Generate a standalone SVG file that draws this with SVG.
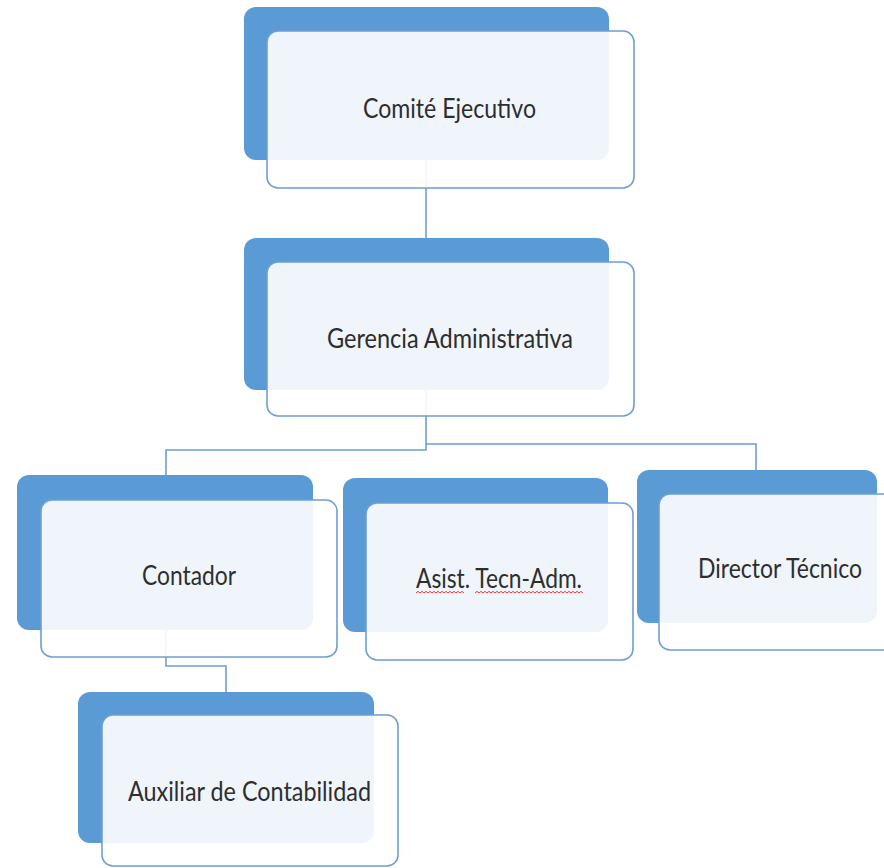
<svg xmlns="http://www.w3.org/2000/svg" width="884" height="868" viewBox="0 0 884 868">
<style>
.back{fill:#5b9bd5;}
.front{fill:#ffffff;fill-opacity:0.9;stroke:#6e9fd3;stroke-width:1.6;}
.conn{fill:none;stroke:#6e9fd3;stroke-width:1.6;}
.lbl{font-family:Lato,"Open Sans","Liberation Sans",sans-serif;font-size:26px;fill:#2e2e2e;}
.sq{fill:none;stroke:#e03a3a;stroke-width:1;}
</style>
<rect width="884" height="868" fill="#ffffff"/>
<g id="connectors">
<path class="conn" d="M426 160 V238"/>
<path class="conn" d="M426 390 V450 H166 V475"/>
<path class="conn" d="M426 444 H756 V470"/>
<path class="conn" d="M166 630 V666 H226 V692"/>
</g>
<g id="node-comite">
<rect class="back" x="244" y="7" width="365" height="153" rx="12"/>
<rect class="front" x="267" y="31" width="367" height="157" rx="11"/>
<text class="lbl" x="363" y="118" textLength="173" lengthAdjust="spacingAndGlyphs">Comité Ejecutivo</text>
</g>
<g id="node-gerencia">
<rect class="back" x="244" y="238" width="365" height="152" rx="12"/>
<rect class="front" x="267" y="262" width="367" height="154" rx="11"/>
<text class="lbl" x="327" y="348" textLength="246" lengthAdjust="spacingAndGlyphs">Gerencia Administrativa</text>
</g>
<g id="node-contador">
<rect class="back" x="17" y="475" width="296" height="155" rx="12"/>
<rect class="front" x="41" y="500" width="296" height="157" rx="11"/>
<text class="lbl" x="142" y="585" textLength="94" lengthAdjust="spacingAndGlyphs">Contador</text>
</g>
<g id="node-asist">
<rect class="back" x="343" y="478" width="265" height="154" rx="12"/>
<rect class="front" x="366" y="503" width="267" height="157" rx="11"/>
<text class="lbl" x="416" y="588" textLength="166" lengthAdjust="spacingAndGlyphs">Asist. Tecn-Adm.</text>
<path class="sq" d="M416 593 l2 -1.6 l2 1.6 l2 -1.6 l2 1.6 l2 -1.6 l2 1.6 l2 -1.6 l2 1.6 l2 -1.6 l2 1.6 l2 -1.6 l2 1.6 l2 -1.6 l2 1.6 l2 -1.6 l2 1.6 l2 -1.6 l2 1.6 l2 -1.6 l2 1.6 l2 -1.6 l2 1.6 l2 -1.6 l2 1.6"/>
<path class="sq" d="M475 593 l2 -1.6 l2 1.6 l2 -1.6 l2 1.6 l2 -1.6 l2 1.6 l2 -1.6 l2 1.6 l2 -1.6 l2 1.6 l2 -1.6 l2 1.6 l2 -1.6 l2 1.6 l2 -1.6 l2 1.6 l2 -1.6 l2 1.6 l2 -1.6 l2 1.6 l2 -1.6 l2 1.6 l2 -1.6 l2 1.6 l2 -1.6 l2 1.6 l2 -1.6 l2 1.6 l2 -1.6 l2 1.6 l2 -1.6 l2 1.6 l2 -1.6 l2 1.6 l2 -1.6 l2 1.6 l2 -1.6 l2 1.6 l2 -1.6 l2 1.6 l2 -1.6 l2 1.6 l2 -1.6 l2 1.6 l2 -1.6 l2 1.6 l2 -1.6 l2 1.6 l2 -1.6 l2 1.6 l2 -1.6 l2 1.6 l2 -1.6 l2 1.6"/>
</g>
<g id="node-director">
<rect class="back" x="637" y="470" width="240" height="153" rx="12"/>
<rect class="front" x="659" y="494" width="250" height="156" rx="11"/>
<text class="lbl" x="698" y="578" textLength="164" lengthAdjust="spacingAndGlyphs">Director Técnico</text>
</g>
<g id="node-auxiliar">
<rect class="back" x="78" y="692" width="296" height="151" rx="12"/>
<rect class="front" x="102" y="715" width="296" height="151" rx="11"/>
<text class="lbl" x="128" y="801" textLength="243" lengthAdjust="spacingAndGlyphs">Auxiliar de Contabilidad</text>
</g>
</svg>
